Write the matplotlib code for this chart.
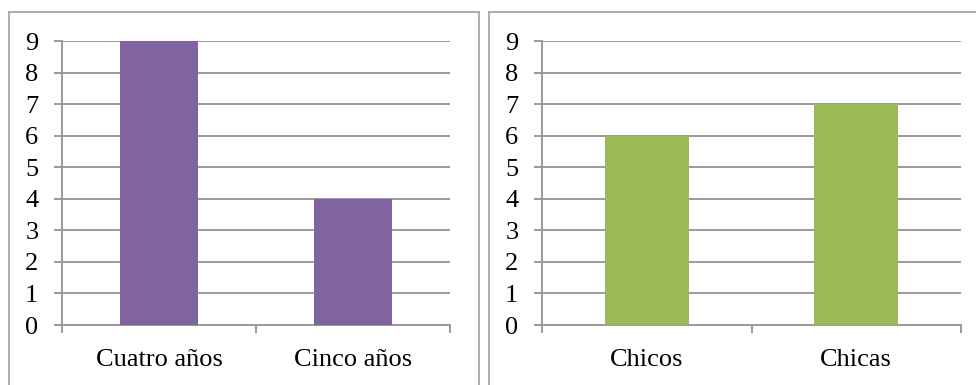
import matplotlib
matplotlib.use("Agg")
import matplotlib.pyplot as plt
from matplotlib.patches import Rectangle

plt.rcParams['font.family'] = ['Liberation Serif', 'DejaVu Serif']

left_categories = ["Cuatro años", "Cinco años"]
left_values = [9, 4]
right_categories = ["Chicos", "Chicas"]
right_values = [6, 7]
y_ticks = list(range(0, 10))

W, H = 976, 385
fig = plt.figure(figsize=(W / 100, H / 100), dpi=100)

grid_col = "#9A9A9A"
border_col = "#A6A6A6"

# panel borders
fig.patches.append(Rectangle((8.7 / W, -0.05), (479 - 8.7) / W, 1 - 11.7 / H + 0.05,
                             transform=fig.transFigure, fill=False,
                             edgecolor=border_col, linewidth=1.3))
fig.patches.append(Rectangle((489 / W, -0.05), (990 - 489) / W, 1 - 11.7 / H + 0.05,
                             transform=fig.transFigure, fill=False,
                             edgecolor=border_col, linewidth=1.3))


def make_panel(rect, cats, vals, color):
    ax = fig.add_axes(rect)
    x = list(range(len(cats)))
    ax.bar(x, vals, width=0.4, color=color, zorder=3)
    ax.set_xlim(-0.5, len(cats) - 0.5)
    ax.set_ylim(0, 9)
    ax.set_yticks(y_ticks)
    ax.set_yticklabels([str(v) for v in y_ticks], fontsize=19)
    ax.yaxis.grid(True, color=grid_col, linewidth=1.4, zorder=0)
    ax.set_axisbelow(True)
    ax.set_xticks([i - 0.5 for i in range(len(cats) + 1)])
    ax.set_xticklabels([])
    ax.set_xticks(x, minor=True)
    ax.set_xticklabels(cats, minor=True, fontsize=19)
    ax.tick_params(axis='x', which='major', length=6, width=1.4, color=grid_col, direction='out')
    ax.tick_params(axis='x', which='minor', length=0, pad=17.5)
    ax.tick_params(axis='y', which='major', length=6, width=1.4, color=grid_col, direction='out', pad=11)
    for s in ['top', 'right']:
        ax.spines[s].set_visible(False)
    for s in ['left', 'bottom']:
        ax.spines[s].set_color(grid_col)
        ax.spines[s].set_linewidth(1.4)
    ax.set_facecolor('none')
    return ax


yb = 1 - 325 / H
yt = 1 - 41 / H
make_panel([62 / W, yb, (450 - 62) / W, yt - yb], left_categories, left_values, "#8064A2")
make_panel([542 / W, yb, (961 - 542) / W, yt - yb], right_categories, right_values, "#9BBB59")

fig.savefig("out.png", dpi=100)
